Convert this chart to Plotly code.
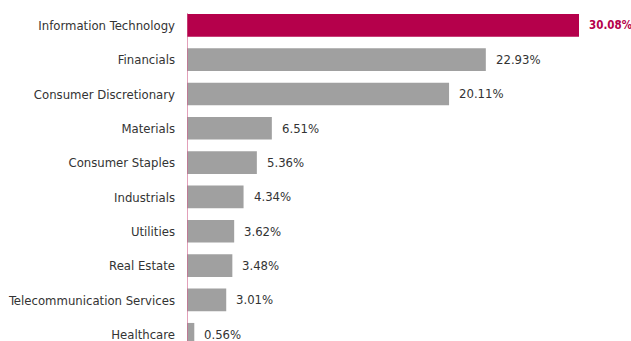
import plotly.graph_objects as go

# Sector weights (%)
sectors = [
    "Information Technology",
    "Financials",
    "Consumer Discretionary",
    "Materials",
    "Consumer Staples",
    "Industrials",
    "Utilities",
    "Real Estate",
    "Telecommunication Services",
    "Healthcare",
]
weights = [30.08, 22.93, 20.11, 6.51, 5.36, 4.34, 3.62, 3.48, 3.01, 0.56]

HIGHLIGHT = "#B5004B"
GREY = "#A0A0A0"
TEXT = "#333333"
FONT = "DejaVu Sans Condensed, Roboto, sans-serif"
BAR_WIDTH = 0.66

colors = [HIGHLIGHT if i == 0 else GREY for i in range(len(sectors))]

fig = go.Figure(
    go.Bar(
        x=weights,
        y=list(range(len(sectors))),
        orientation="h",
        width=BAR_WIDTH,
        marker=dict(color=colors, line=dict(width=0)),
        hoverinfo="skip",
    )
)

# Value labels just past each bar end; the top sector is set in bold colour
for i, w in enumerate(weights):
    top = i == 0
    fig.add_annotation(
        x=w,
        y=i,
        xref="x",
        yref="y",
        text=f"<b>{w:.2f}%</b>" if top else f"{w:.2f}%",
        showarrow=False,
        xanchor="left",
        yanchor="middle",
        xshift=8,
        font=dict(family=FONT, size=11.5 if top else 13,
                  color=HIGHLIGHT if top else TEXT),
    )

# Thin baseline running down from the top bar
fig.add_shape(
    type="line",
    xref="x",
    yref="y",
    x0=0,
    x1=0,
    y0=-BAR_WIDTH / 2 - 0.03,
    y1=len(sectors) + 1,
    line=dict(color="#D0608C", width=1.2),
)

fig.update_layout(
    width=631,
    height=341,
    margin=dict(l=187, r=0, t=0, b=0, autoexpand=False),
    paper_bgcolor="white",
    plot_bgcolor="white",
    showlegend=False,
)
fig.update_xaxes(range=[0, 34.07], visible=False, showgrid=False,
                 zeroline=False, automargin=False)
fig.update_yaxes(
    range=[9.196, -0.737],
    tickmode="array",
    tickvals=list(range(len(sectors))),
    ticktext=sectors,
    showgrid=False,
    zeroline=False,
    showline=False,
    ticks="",
    automargin=False,
    ticklabelstandoff=11,
    ticklabeloverflow="allow",
    tickfont=dict(family=FONT, size=13, color=TEXT),
)

fig.write_html("out.html")
